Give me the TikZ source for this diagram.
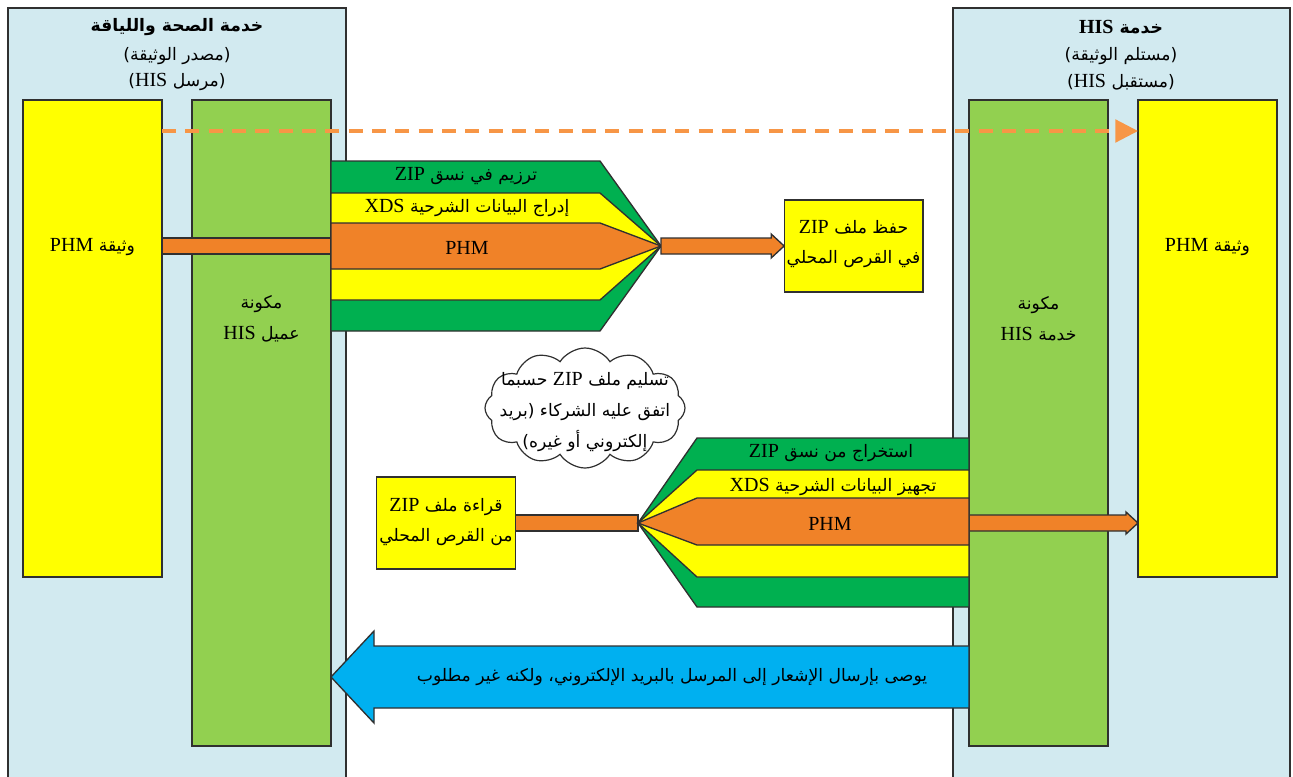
\documentclass[tikz,border=0pt]{standalone}
\usepackage{fontspec}
\setmainfont{Liberation Serif}
\newfontfamily\arabicfont[Script=Arabic,Scale=0.86]{DejaVu Sans}
\TeXXeTstate=1
\usetikzlibrary{shapes.symbols,arrows.meta,calc}

\definecolor{panelblue}{HTML}{D2EAF0}
\definecolor{compgreen}{HTML}{92D050}
\definecolor{darkgreen}{HTML}{00B050}
\definecolor{docyellow}{HTML}{FFFF00}
\definecolor{barorange}{HTML}{F08228}
\definecolor{lightorange}{HTML}{F79646}
\definecolor{notifyblue}{HTML}{00B0F0}
\definecolor{edge}{HTML}{303030}

% Arabic line (right to left) and embedded Latin word (left to right)
\newcommand\AR[1]{{\arabicfont\beginR #1\endR}}
\newcommand\LT[1]{{\rmfamily\beginL #1\endL}}

\begin{document}
\begin{tikzpicture}[x=0.75pt,y=-0.75pt,
  every node/.style={inner sep=0pt,outer sep=0pt},
  frame/.style={draw=edge,line width=1pt,line join=miter},
  panel/.style={frame,fill=panelblue},
  comp/.style={frame,fill=compgreen,minimum width=104.25pt,minimum height=484.5pt},
  doc/.style={frame,fill=docyellow,minimum width=104.25pt,minimum height=357.75pt},
  filebox/.style={frame,fill=docyellow,minimum width=104pt,minimum height=69pt},
  gband/.style={frame,fill=darkgreen},
  yband/.style={frame,fill=docyellow},
  oband/.style={frame,fill=barorange},
  notify/.style={frame,fill=notifyblue},
  dashline/.style={draw=lightorange,line width=2.4pt,dash pattern=on 10.5pt off 7pt,
    -{Triangle[length=17pt,width=17pt]}},
  lbl/.style={font=\fontsize{15}{23}\selectfont,align=center},
  ttl/.style={font=\fontsize{15}{20}\selectfont\bfseries,align=center},
]
\useasboundingbox (0,0) rectangle (1293,776);

% service panels
\path[panel] (8,8) rectangle (346,800);
\path[panel] (953,8) rectangle (1290,800);

\node[ttl] (ltitle) at (177,27) {\AR{خدمة الصحة واللياقة}};
\node[lbl] (lsub1) at (177,56) {\AR{(مصدر الوثيقة)}};
\node[lbl] (lsub2) at (177,82) {\AR{(مرسل \LT{HIS})}};
\node[ttl] (rtitle) at (1121,27) {\AR{خدمة \LT{HIS}}};
\node[lbl] (rsub1) at (1121,56) {\AR{(مستلم الوثيقة)}};
\node[lbl] (rsub2) at (1121,82) {\AR{(مستقبل \LT{HIS})}};

% components and documents
\node[comp] (lcomp) at (261.5,423) {};
\node[doc] (ldoc) at (92.5,338.5) {};
\node[comp] (rcomp) at (1038.5,423) {};
\node[doc] (rdoc) at (1207.5,338.5) {};

\node[lbl] (ldoctxt) at (92.5,247) {\AR{وثيقة \LT{PHM}}};
\node[lbl] (rdoctxt) at (1207.5,247) {\AR{وثيقة \LT{PHM}}};
\node[lbl] (lcomptxt) at (261.5,319) {\AR{مكونة}\\\AR{عميل \LT{HIS}}};
\node[lbl] (rcomptxt) at (1038.5,319) {\AR{مكونة}\\\AR{خدمة \LT{HIS}}};

% direct document delivery
\draw[dashline] (ldoc.east |- 0,131) -- (rdoc.west |- 0,131);

% ---- packaging on the sender side ----
\coordinate (tipA) at (661,246);
\path[oband] (ldoc.east |- 0,238) rectangle (lcomp.east |- 0,254);
\path[gband] (331,161) -- (600,161) -- (tipA) -- (600,331) -- (331,331) -- cycle;
\path[yband] (331,193) -- (600,193) -- (tipA) -- (600,300) -- (331,300) -- cycle;
\path[oband] (331,223) -- (600,223) -- (tipA) -- (600,269) -- (331,269) -- cycle;
\node[lbl] (packzip) at (466,176) {\AR{ترزيم في نسق \LT{ZIP}}};
\node[lbl] (packxds) at (467,208) {\AR{إدراج البيانات الشرحية \LT{XDS}}};
\node[lbl] (packphm) at (467,248) {\LT{PHM}};

\node[filebox] (save) at (853.5,246) {};
\node[lbl] (savetxt) at (853.5,244) {\AR{حفظ ملف \LT{ZIP}}\\\AR{في القرص المحلي}};
\path[oband] ($(tipA)+(0,-8)$) -- ($(save.west)+(-13,-8)$) -- ($(save.west)+(-13,-12)$)
  -- (save.west) -- ($(save.west)+(-13,12)$) -- ($(save.west)+(-13,8)$)
  -- ($(tipA)+(0,8)$) -- cycle;

% transport of the ZIP file
\node[cloud,draw=edge,fill=white,line width=0.9pt,cloud puffs=12,cloud puff arc=115,
  aspect=1.7,minimum width=150pt,minimum height=90pt] (cloud) at (585,408) {};
\node[lbl] (cloudtxt) at (585,412) {\AR{تسليم ملف \LT{ZIP} حسبما}\\\AR{اتفق عليه الشركاء (بريد}\\\AR{إلكتروني أو غيره)}};

% ---- unpacking on the receiver side ----
\coordinate (tipB) at (638,523);
\node[filebox] (read) at (446,523) {};
\node[lbl] (readtxt) at (446,522) {\AR{قراءة ملف \LT{ZIP}}\\\AR{من القرص المحلي}};
\path[oband] (read.east |- 0,515) rectangle (tipB |- 0,531);
\path[oband] (rcomp.west |- 0,515) -- ($(rdoc.west |- 0,515)+(-12,0)$) -- ($(rdoc.west |- 0,512)+(-12,0)$)
  -- (rdoc.west |- tipB) -- ($(rdoc.west |- 0,534)+(-12,0)$) -- ($(rdoc.west |- 0,531)+(-12,0)$)
  -- (rcomp.west |- 0,531) -- cycle;
\path[gband] (969,438) -- (697,438) -- (tipB) -- (697,607) -- (969,607) -- cycle;
\path[yband] (969,470) -- (697,470) -- (tipB) -- (697,577) -- (969,577) -- cycle;
\path[oband] (969,498) -- (697,498) -- (tipB) -- (697,545) -- (969,545) -- cycle;
\node[lbl] (unzip) at (831,453) {\AR{استخراج من نسق \LT{ZIP}}};
\node[lbl] (unxds) at (833,487) {\AR{تجهيز البيانات الشرحية \LT{XDS}}};
\node[lbl] (unphm) at (830,524) {\LT{PHM}};

% acknowledgement back to the sender
\path[notify] (rcomp.west |- 0,646) -- (374,646) -- (374,631) -- (lcomp.east |- 0,677)
  -- (374,723) -- (374,708) -- (rcomp.west |- 0,708) -- cycle;
\node[lbl] (notifytxt) at (672,677) {\AR{يوصى بإرسال الإشعار إلى المرسل بالبريد الإلكتروني، ولكنه غير مطلوب}};
\end{tikzpicture}
\end{document}
